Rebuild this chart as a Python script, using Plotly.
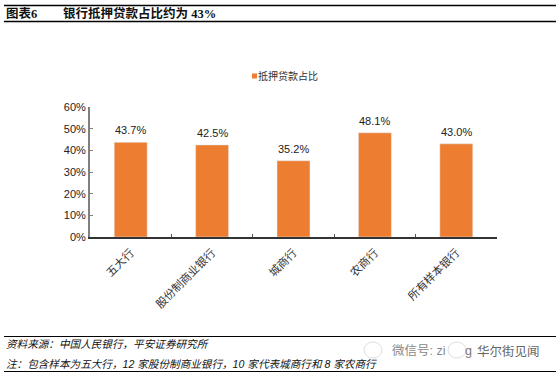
import plotly.graph_objects as go

categories = ["五大行", "股份制商业银行", "城商行", "农商行", "所有样本银行"]
values = [43.7, 42.5, 35.2, 48.1, 43.0]
value_labels = ["43.7%", "42.5%", "35.2%", "48.1%", "43.0%"]
series_name = "抵押贷款占比"
ytick_vals = [0, 10, 20, 30, 40, 50, 60]
ytick_text = ["0%", "10%", "20%", "30%", "40%", "50%", "60%"]

CJK = "Noto Sans CJK SC"
SANS = "Liberation Sans, " + CJK
SERIF = "Liberation Serif, " + CJK
ORANGE = "#ED7D31"

L, R, T, B = 90, 61, 107, 139
W = 558 - L - R
H = 376 - T - B
def px(x): return (x - L) / W
def py(y): return 1 - (y - T) / H

fig = go.Figure(go.Bar(
    x=categories, y=values, name=series_name, marker_color=ORANGE, width=0.405,
    showlegend=False, hoverinfo="skip",
))
fig.update_layout(
    width=558, height=376, autosize=False, paper_bgcolor="white", plot_bgcolor="white",
    margin=dict(l=L, r=R, t=T, b=B, pad=0),
    showlegend=False,
    font=dict(family=SANS, size=11, color="#222222"),
    xaxis=dict(showline=True, linecolor="#333333", linewidth=1.5, ticks="inside",
               ticklen=3, tickcolor="#555555", tickangle=-45, tickson="boundaries",
               ticklabelstandoff=3,
               showgrid=False, tickfont=dict(family=SANS, size=11.2, color="#333333"), fixedrange=True),
    yaxis=dict(range=[0, 60], tickvals=ytick_vals, ticktext=ytick_text, showline=True,
               linecolor="#808080", linewidth=2, ticks="inside", ticklen=3, tickcolor="#808080",
               showgrid=False, zeroline=False, tickfont=dict(family=SANS, size=11, color="#222222"),
               fixedrange=True),
)

for cat, val, lab in zip(categories, values, value_labels):
    fig.add_annotation(x=cat, y=val, text=lab, showarrow=False, yanchor="bottom", yshift=4,
                       font=dict(family=SANS, size=11, color="#222222"))

for yy, w in [(5.5, 1.5), (21.5, 1.5), (336.5, 1), (371.5, 1)]:
    fig.add_shape(type="line", xref="paper", yref="paper", x0=px(4), x1=px(556), y0=py(yy), y1=py(yy),
                  line=dict(color="black", width=w))

def txt(x, y, s, **kw):
    fig.add_annotation(xref="paper", yref="paper", x=px(x), y=py(y), text=s, showarrow=False,
                       xanchor="left", yanchor="middle", xshift=0, borderpad=0, borderwidth=0, **kw)

txt(6, 13.5, "<b>图表6</b>", font=dict(family=SERIF, size=12.5, color="#111111"))
txt(63, 13.5, "<b>银行抵押贷款占比约为 43%</b>", font=dict(family=SERIF, size=12.5, color="#111111"))

fig.add_shape(type="rect", xref="paper", yref="paper", x0=px(252), x1=px(257), y0=py(73.5), y1=py(78.5),
              fillcolor=ORANGE, line=dict(width=0))
txt(258, 76, series_name, font=dict(family=SANS, size=10, color="#333333"))

txt(6, 344, "<i>资料来源：中国人民银行，平安证券研究所</i>", font=dict(family=SANS, size=10.6, color="#111111"))
txt(6, 364, "<i>注：包含样本为五大行，12 家股份制商业银行，10 家代表城商行和 8 家农商行</i>",
    font=dict(family=SANS, size=10.6, color="#111111"))

# watermark
for cx, cy in [(373, 350), (457, 350)]:
    fig.add_shape(type="circle", xref="paper", yref="paper", x0=px(cx - 9), x1=px(cx + 9),
                  y0=py(cy + 8), y1=py(cy - 8), line=dict(color="#DDDDDD", width=1))
txt(392, 351, "微信号: zi", font=dict(family=SANS, size=12.5, color="#888888"))
txt(465, 351, "g", font=dict(family=SANS, size=12.5, color="#777777"))
txt(477, 351, "华尔街见闻", font=dict(family=SANS, size=12.5, color="#666666"))

fig.write_html("out.html", post_script="document.body.style.margin='0';",
               config={"displayModeBar": False})
